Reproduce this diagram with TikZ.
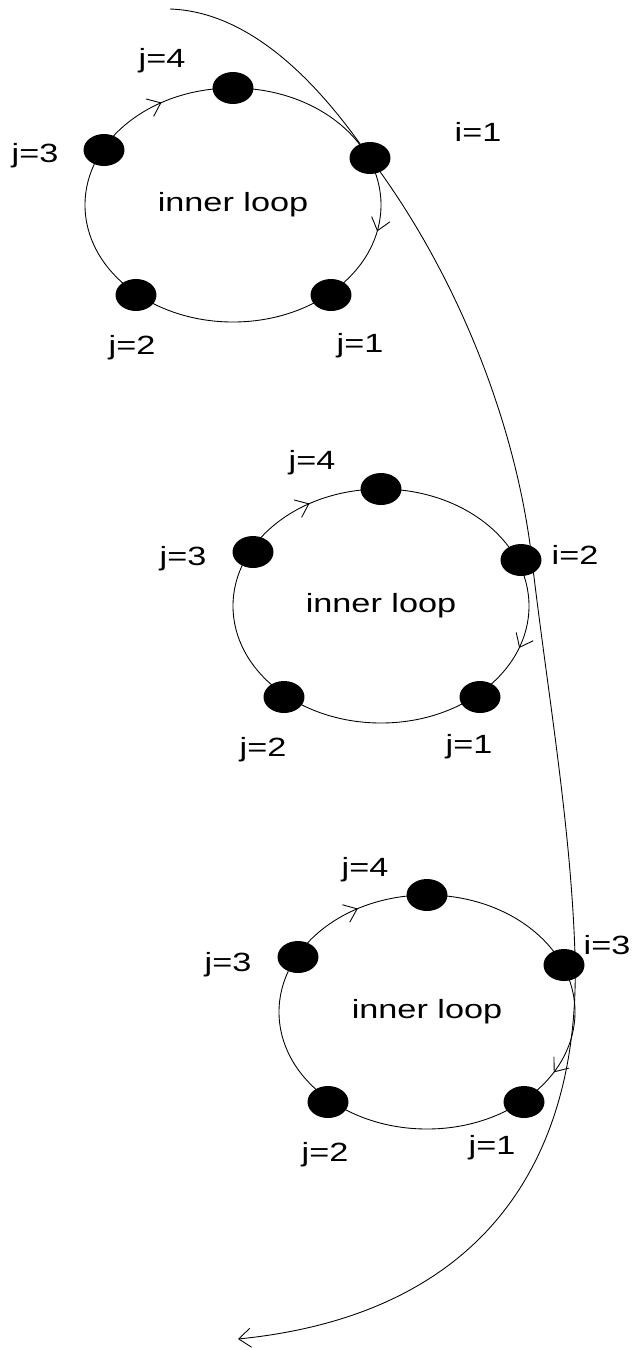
\documentclass[tikz,border=0pt]{standalone}
\usepackage{fontspec}
\setmainfont{Liberation Sans}[FakeStretch=1.3]
\usetikzlibrary{arrows.meta}
\usetikzlibrary{shapes.geometric}
\usetikzlibrary{decorations.markings}

\begin{document}
\begin{tikzpicture}[x=0.02cm,y=-0.02cm]
\useasboundingbox (0,0) rectangle (635,1350);
\begin{scope}[every node/.style={font=\fontsize{15}{17}\selectfont}]
    \node (c1) at (233,205) {inner loop};
    \node (c2) at (381,606) {inner loop};
    \node (c3) at (427,1012) {inner loop};
    \node (t1j4) at (162,61) {j=4};
    \node (t1j3) at (35,156) {j=3};
    \node (t1j2) at (132,348) {j=2};
    \node (t1j1) at (360,346) {j=1};
    \node (t1i) at (478,132) {i=1};
    \node (t2j4) at (312,463) {j=4};
    \node (t2j3) at (183,559) {j=3};
    \node (t2j2) at (263,750) {j=2};
    \node (t2j1) at (469,747) {j=1};
    \node (t2i) at (575,555) {i=2};
    \node (t3j4) at (365,870) {j=4};
    \node (t3j3) at (228,965) {j=3};
    \node (t3j2) at (325,1155) {j=2};
    \node (t3j1) at (492,1148) {j=1};
    \node (t3i) at (607,945) {i=3};
\end{scope}
\begin{scope}[every node/.style={ellipse,fill=black,inner sep=0pt,
                                 minimum width=0.82cm,minimum height=0.64cm}]
    \node (l1j4) at (233,88) {};
    \node (l1j3) at (104,150) {};
    \node (l1i) at (370,158) {};
    \node (l1j1) at (331,295) {};
    \node (l1j2) at (136,295) {};
    \node (l2j4) at (381,489) {};
    \node (l2j3) at (253,552) {};
    \node (l2i) at (521,560) {};
    \node (l2j1) at (480,697) {};
    \node (l2j2) at (284,697) {};
    \node (l3j4) at (427,895) {};
    \node (l3j3) at (298,957) {};
    \node (l3i) at (564,965) {};
    \node (l3j1) at (524,1102) {};
    \node (l3j2) at (328,1102) {};
\end{scope}
\coordinate (top) at (170,9);
\coordinate (bottom) at (238,1339);
\begin{scope}[>={Straight Barb[length=2.4mm,width=3.8mm]},
              loop_edge/.style 2 args={draw=black,line width=0.5pt,
                  decoration={markings,mark=at position #1 with {\arrow{>}},
                                       mark=at position #2 with {\arrow{>}}},
                  postaction=decorate},
              outer_edge/.style={draw=black,line width=0.5pt}]
    \path [loop_edge={0.032}{0.662}] (c1.center) ellipse [x radius=148, y radius=117];
    \path [loop_edge={0.052}{0.662}] (c2.center) ellipse [x radius=148, y radius=117];
    \path [loop_edge={0.078}{0.665}] (c3.center) ellipse [x radius=148, y radius=117];
    \path [->,outer_edge] (top) .. controls (260,12) and (331,101) .. (l1i.center)
        .. controls (455,271) and (516,421) .. ([xshift=0.22cm]l2i.center)
        .. controls (547,689) and (571,825) .. ([xshift=0.22cm,yshift=0.2cm]l3i.center)
        .. controls (581,1155) and (488,1314) .. (bottom);
\end{scope}
\end{tikzpicture}
\end{document}
